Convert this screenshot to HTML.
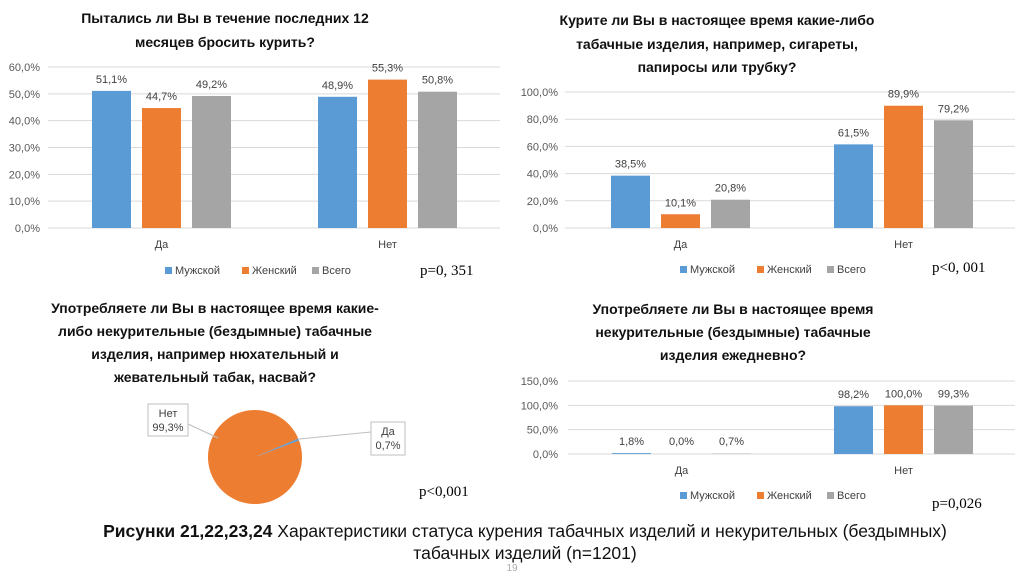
<!DOCTYPE html>
<html><head><meta charset="utf-8"><style>
body{margin:0;background:#fff;width:1024px;height:574px;overflow:hidden}
svg{display:block;font-family:"Liberation Sans",Arial,sans-serif}
.t{font-weight:bold;font-size:14px;fill:#111;text-anchor:middle}
.ax{font-size:11px;fill:#595959}
.lab{font-size:11px;fill:#404040;text-anchor:middle}
.p{font-family:"Liberation Serif",serif;font-size:15px;fill:#000}
</style></head><body>
<svg id="s" width="1024" height="574">
<g>
<text class="t" x="225" y="23">Пытались ли Вы в течение последних 12</text>
<text class="t" x="225" y="47">месяцев бросить курить?</text></g>
<g>
<text class="t" x="717" y="25">Курите ли Вы в настоящее время какие-либо</text>
<text class="t" x="717" y="49">табачные изделия, например, сигареты,</text>
<text class="t" x="717" y="72">папиросы или трубку?</text></g>
<g>
<text class="t" x="215" y="313">Употребляете ли Вы в настоящее время какие-</text>
<text class="t" x="215" y="336">либо некурительные (бездымные) табачные</text>
<text class="t" x="215" y="359">изделия, например нюхательный и</text>
<text class="t" x="215" y="382">жевательный табак,  насвай?</text></g>
<g>
<text class="t" x="733" y="314">Употребляете ли Вы в настоящее время</text>
<text class="t" x="733" y="337">некурительные (бездымные) табачные</text>
<text class="t" x="733" y="360">изделия ежедневно?</text></g>
<text class="p" x="420" y="275">p=0, 351</text>
<text class="p" x="932" y="272">p&lt;0, 001</text>
<text class="p" x="419" y="496">p&lt;0,001</text>
<text class="p" x="932" y="508">p=0,026</text>
<g font-size="17.5" text-anchor="middle" fill="#111">
<text x="525" y="537"><tspan font-weight="bold">Рисунки 21,22,23,24</tspan>  Характеристики статуса курения табачных изделий и некурительных (бездымных)</text>
<text x="525" y="559">табачных изделий (n=1201)</text></g>
<text x="512" y="571" font-size="10" fill="#aaa" text-anchor="middle">19</text>
</svg>
<script>
const cats=["Да","Нет"];
const series=["Мужской","Женский","Всего"];
const colors=["#5b9bd5","#ed7d31","#a5a5a5"];
const c1Vals=[[51.1,48.9],[44.7,55.3],[49.2,50.8]];
const c1Ticks=[0,10,20,30,40,50,60];
const c2Vals=[[38.5,61.5],[10.1,89.9],[20.8,79.2]];
const c2Ticks=[0,20,40,60,80,100];
const c4Vals=[[1.8,98.2],[0.0,100.0],[0.7,99.3]];
const c4Ticks=[0,50,100,150];
const pieLabels=["Нет","Да"];
const pieVals=[99.3,0.7];
const NS="http://www.w3.org/2000/svg";
const svg=document.getElementById('s');
function el(t,a,txt,p){const e=document.createElementNS(NS,t);for(const k in a)e.setAttribute(k,a[k]);if(txt!=null)e.textContent=txt;(p||svg).appendChild(e);return e;}
const fmt=v=>v.toFixed(1).replace('.',',')+'%';
function bar(cfg,vals,ticks,name){
 const max=ticks[ticks.length-1];
 const y=v=>cfg.y0-(v/max)*(cfg.y0-cfg.yTop);
 const g=el('g',{});
 
 
 ticks.forEach(t=>{
  const l=el('line',{x1:cfg.x0,x2:cfg.x1,y1:y(t),y2:y(t),stroke:'#d9d9d9','stroke-width':1},null,g);
  
  
  const tx=el('text',{x:cfg.lx,y:y(t)+4,class:'ax','text-anchor':'end'},t.toFixed(1).replace('.',',')+'%',g);
  
  
 });
 cats.forEach((c,ci)=>{
  series.forEach((s,si)=>{
   const v=vals[si][ci];const bx=cfg.gx[ci]+si*cfg.step;
   const r=el('rect',{x:bx,y:y(v),width:cfg.bw,height:cfg.y0-y(v),fill:colors[si]},null,g);
   
   
   const t=el('text',{x:bx+cfg.bw/2,y:Math.min(y(v),cfg.y0-1)-8,class:'lab'},fmt(v),g);
   
   
  });
  const t=el('text',{x:cfg.gx[ci]+cfg.step+cfg.bw/2,y:cfg.y0+20,class:'lab'},c,g);
  
  
 });
 let lx=cfg.legX;
 series.forEach((s,si)=>{
  const r=el('rect',{x:lx,y:cfg.legY-7,width:7,height:7,fill:colors[si]},null,g);
  
  
  const t=el('text',{x:lx+10,y:cfg.legY,'font-size':11,fill:'#404040'},s,g);
  
  
  lx+=[77,70,0][si];
 });
}
bar({x0:48,x1:500,lx:40,y0:228,yTop:67,gx:[92,318],step:50,bw:39,legX:165,legY:274},c1Vals,c1Ticks,'chart1-tried-to-quit');
bar({x0:565,x1:1015,lx:558,y0:228,yTop:92,gx:[611,834],step:50,bw:39,legX:680,legY:273},c2Vals,c2Ticks,'chart2-current-smoking');
bar({x0:568,x1:1015,lx:558,y0:454,yTop:381,gx:[612,834],step:50,bw:39,legX:680,legY:499},c4Vals,c4Ticks,'chart4-daily-smokeless');
// pie
const cx=255,cy=457,R=47;
const tot=pieVals.reduce((a,b)=>a+b,0);
let ang=-20.5*Math.PI/180;
const pieCols=["#ed7d31","#5b9bd5"];
pieVals.forEach((v,i)=>{
 const a0=ang,a1=ang+v/tot*2*Math.PI;ang=a1;
 const x0=cx+R*Math.cos(a0),y0=cy+R*Math.sin(a0),x1=cx+R*Math.cos(a1),y1=cy+R*Math.sin(a1);
 const p=el('path',{d:`M${cx},${cy}L${x0},${y0}A${R},${R} 0 ${a1-a0>Math.PI?1:0} 1 ${x1},${y1}Z`,fill:pieCols[i]});
 
 
});
const boxes=[{x:148,y:404,w:40,h:32,lx1:188,ly1:424,lx2:218,ly2:438},{x:371,y:422,w:34,h:33,lx1:371,ly1:432,lx2:299,ly2:439}];
pieVals.forEach((v,i)=>{
 const b=boxes[i];
 const ln=el('polyline',{points:`${b.lx1},${b.ly1} ${b.lx2},${b.ly2}`,stroke:'#bfbfbf',fill:'none'});
 
 
 const r=el('rect',{x:b.x,y:b.y,width:b.w,height:b.h,fill:'#fff',stroke:'#bfbfbf'});
 
 
 const t1=el('text',{x:b.x+b.w/2,y:b.y+13,class:'lab'},pieLabels[i]);
 
 
 const t2=el('text',{x:b.x+b.w/2,y:b.y+27,class:'lab'},fmt(v));
 
 
});
</script>
</body></html>
